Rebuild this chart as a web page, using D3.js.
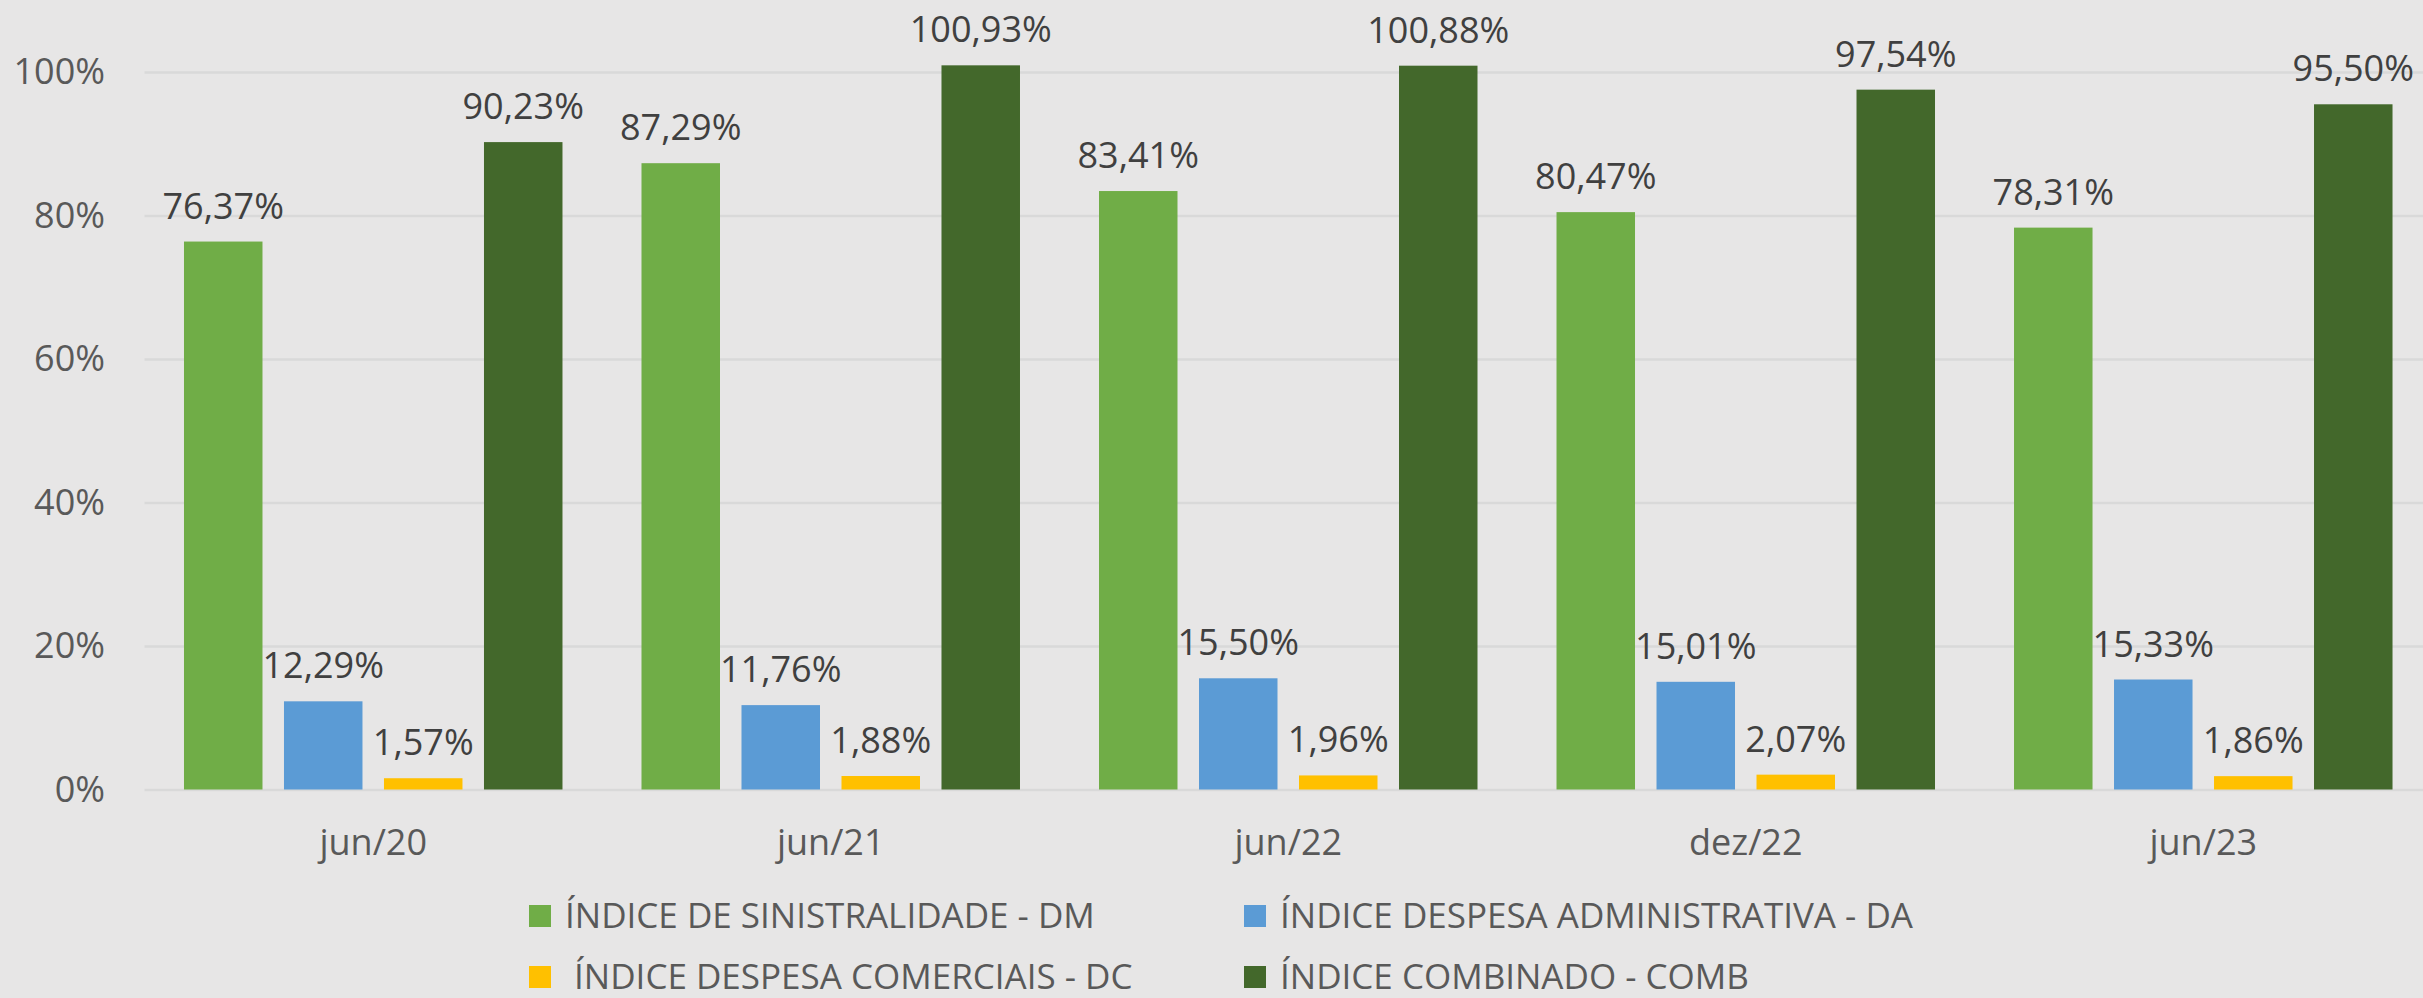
<!DOCTYPE html>
<meta charset="utf-8">
<style>
  body { margin: 0; background: #e7e6e6; }
  svg text { font-family: "Open Sans", sans-serif; }
</style>
<body>
<svg id="chart"></svg>
</body>
<script src="https://d3js.org/d3.v7.min.js"></script>
<script>
// chart data (fractions, shown as %)
var categories = ["jun/20", "jun/21", "jun/22", "dez/22", "jun/23"];
var seriesNames = [
  "ÍNDICE DE SINISTRALIDADE - DM",
  "ÍNDICE DESPESA ADMINISTRATIVA - DA",
  " ÍNDICE DESPESA COMERCIAIS - DC",
  "ÍNDICE COMBINADO - COMB"
];
var dm = [0.7637, 0.8729, 0.8341, 0.8047, 0.7831];
var da = [0.1229, 0.1176, 0.1550, 0.1501, 0.1533];
var dc = [0.0157, 0.0188, 0.0196, 0.0207, 0.0186];
var comb = [0.9023, 1.0093, 1.0088, 0.9754, 0.9550];
var yTicks = [0, 0.2, 0.4, 0.6, 0.8, 1.0];

var colors = ["#70ad47", "#5b9bd5", "#ffc000", "#43682b"];

// layout
var W = 2423, H = 998,
    margin = {top: 72, left: 144.5, bottom: 208.5},
    plotRight = 2432,
    plotBottom = H - margin.bottom;

var ptBR = d3.formatLocale({decimal: ",", thousands: ".", grouping: [3], currency: ["R$", ""]});
var fmtLabel = ptBR.format(".2%"),
    fmtTick = ptBR.format(".0%");

var svg = d3.select("#chart").attr("width", W).attr("height", H);
svg.append("rect").attr("width", W).attr("height", H).attr("fill", "#e7e6e6");

var x = d3.scaleBand().domain(categories)
    .range([margin.left, plotRight])
    .paddingInner(0.1727).paddingOuter(0.0863);
var xs = d3.scaleBand().domain(d3.range(seriesNames.length))
    .range([0, x.bandwidth()])
    .paddingInner(0.215).paddingOuter(0);
var y = d3.scaleLinear().domain([0, 1]).range([plotBottom, margin.top]);

// gridlines + y labels
var yAxis = svg.append("g")
  .attr("transform", "translate(" + margin.left + ",0)")
  .call(d3.axisLeft(y).tickValues(yTicks).tickFormat(fmtTick)
    .tickSize(-(W - margin.left)).tickPadding(39.5));
yAxis.select(".domain").remove();
yAxis.selectAll("line").attr("stroke", "#d9d9d9").attr("stroke-width", 2.5);
yAxis.selectAll("text").attr("fill", "#595959").attr("font-size", 36)
  .style("font-family", "'Open Sans', sans-serif");

// category labels
var xAxis = svg.append("g")
  .attr("transform", "translate(0," + plotBottom + ")")
  .call(d3.axisBottom(x).tickSize(0));
xAxis.select(".domain").remove();
xAxis.selectAll("text").attr("fill", "#595959").attr("font-size", 36)
  .attr("y", 65.5).attr("dy", null)
  .style("font-family", "'Open Sans', sans-serif");

// bars
var series = [dm, da, dc, comb];
var rows = [];
series.forEach(function(vals, s){
  vals.forEach(function(v, i){
    rows.push({cat: categories[i], s: s, v: v});
  });
});

var bar = svg.append("g").selectAll("g").data(rows).enter().append("g");
bar.append("rect")
  .attr("x", function(d){ return x(d.cat) + xs(d.s); })
  .attr("width", xs.bandwidth())
  .attr("y", function(d){ return y(d.v); })
  .attr("height", function(d){ return y(0) - y(d.v); })
  .attr("fill", function(d){ return colors[d.s]; });
bar.append("text")
  .attr("x", function(d){ return x(d.cat) + xs(d.s) + xs.bandwidth() / 2; })
  .attr("y", function(d){ return y(d.v) - 23; })
  .attr("text-anchor", "middle")
  .attr("font-size", 36)
  .attr("fill", "#404040")
  .text(function(d){ return fmtLabel(d.v); });

// legend, 2 x 2
var legend = svg.append("g").selectAll("g").data(seriesNames).enter().append("g")
  .attr("transform", function(d, i){
    return "translate(" + (529 + (i % 2) * 715) + "," + (905 + Math.floor(i / 2) * 61) + ")";
  });
legend.append("rect").attr("width", 22).attr("height", 22)
  .attr("fill", function(d, i){ return colors[i]; });
legend.append("text")
  .attr("x", 36).attr("y", 22.5)
  .attr("font-size", 35)
  .attr("fill", "#595959")
  .style("white-space", "pre")
  .text(function(d){ return d; });
</script>
